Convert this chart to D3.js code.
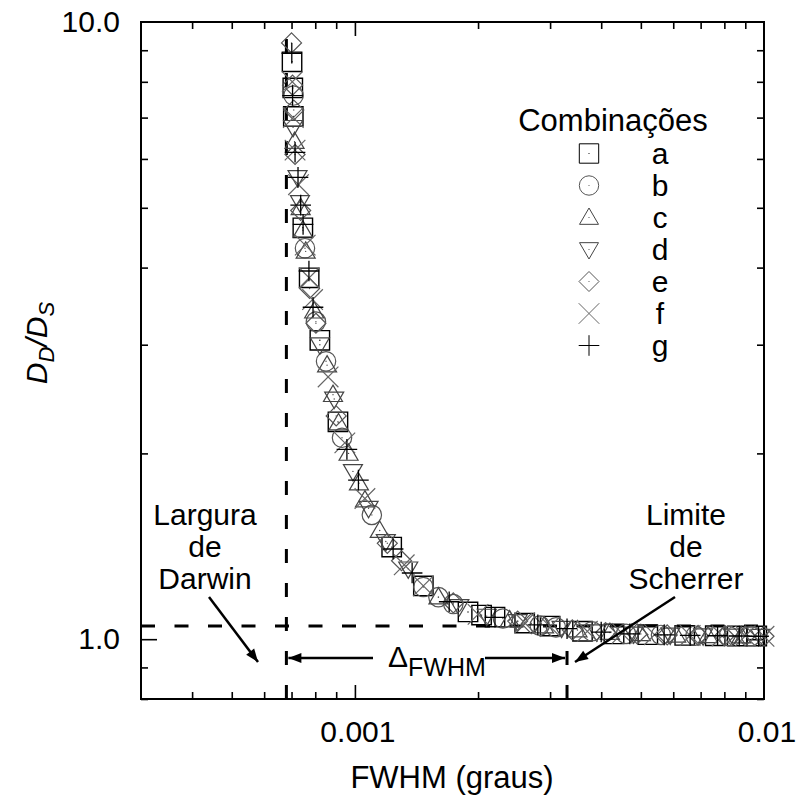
<!DOCTYPE html>
<html><head><meta charset="utf-8">
<script src="https://cdn.jsdelivr.net/npm/d3@7"></script>
<style>body{margin:0;background:#fff} svg{display:block} text{font-family:"Liberation Sans",Arial,Helvetica,sans-serif;fill:#000}</style>
</head><body><svg id="c" width="798" height="798"></svg>
<script>
// ---------- data ----------
const seriesNames = ["a","b","c","d","e","f","g"];
const legendTitle = "Combinações";
const xLabel = "FWHM (graus)";
const xMajorTicks = [0.001, 0.01];
const xMajorLabels = ["0.001", "0.01"];
const xMinorTicks = [4e-4,5e-4,6e-4,7e-4,8e-4,9e-4,2e-3,3e-3,4e-3,5e-3,6e-3,7e-3,8e-3,9e-3];
const yMajorTicks = [1, 10];
const yMajorLabels = ["1.0", "10.0"];
const yMinorTicks = [0.8,0.9,2,3,4,5,6,7,8,9];
const darwinWidth = 6.8e-4;
const scherrerLimit = 3.3e-3;
const referenceLevel = 1.05;

const seriesA = [[7.02e-4,8.62],[7.05e-4,7.82],[7.07e-4,7.03],[7.46e-4,4.64],[7.73e-4,3.85],[8.21e-4,3.05],[9.09e-4,2.25],[1.23e-3,1.41],[1.47e-3,1.22],[1.89e-3,1.107],[2.04e-3,1.094],[2.20e-3,1.086],[2.60e-3,1.062],[3.0e-3,1.05],[3.6e-3,1.03],[4.3e-3,1.02],[5.2e-3,1.017],[6.4e-3,1.014],[7.6e-3,1.013],[8.6e-3,1.012],[9.6e-3,1.012]];
const seriesB = [[7.08e-4,7.6],[7.55e-4,4.30],[8.03e-4,3.27],[8.50e-4,2.82],[9.30e-4,2.12],[1.10e-3,1.59],[1.47e-3,1.215],[1.60e-3,1.17],[1.74e-3,1.14],[2.3e-3,1.08],[2.83e-3,1.052],[3.1e-3,1.045],[3.8e-3,1.03],[4.6e-3,1.02],[5.6e-3,1.016],[6.8e-3,1.013],[8.2e-3,1.012],[9.3e-3,1.012]];
const seriesC = [[7.12e-4,6.4],[7.37e-4,5.0],[7.46e-4,4.6],[7.58e-4,4.25],[7.95e-4,3.40],[8.55e-4,2.78],[8.84e-4,2.49],[9.12e-4,2.24],[9.65e-4,2.0],[1.023e-3,1.79],[1.058e-3,1.68],[1.15e-3,1.50],[1.60e-3,1.17],[2.39e-3,1.074],[2.9e-3,1.05],[3.5e-3,1.035],[4.2e-3,1.025],[5.0e-3,1.02],[6.1e-3,1.015],[7.3e-3,1.013],[8.8e-3,1.012]];
const seriesD = [[7.06e-4,6.75],[7.24e-4,5.6],[7.34e-4,5.1],[8.21e-4,3.0],[8.90e-4,2.45],[9.89e-4,1.87],[1.08e-3,1.63],[1.19e-3,1.44],[1.35e-3,1.30],[1.80e-3,1.13],[2.1e-3,1.09],[2.5e-3,1.068],[3.2e-3,1.042],[3.9e-3,1.028],[4.8e-3,1.02],[5.9e-3,1.016],[7.1e-3,1.013],[8.4e-3,1.012],[9.8e-3,1.011]];
const seriesE = [[7.00e-4,9.25],[7.04e-4,7.9],[7.09e-4,7.2],[7.14e-4,6.1],[7.37e-4,4.95],[7.75e-4,3.70],[8.03e-4,3.25],[9.0e-4,2.3],[1.20e-3,1.43],[1.30e-3,1.34],[1.74e-3,1.145],[2.5e-3,1.07],[2.7e-3,1.06],[3.4e-3,1.035],[4.1e-3,1.025],[4.9e-3,1.02],[5.8e-3,1.016],[6.9e-3,1.014],[8.0e-3,1.012],[9.0e-3,1.012],[1.0e-2,1.011]];
const seriesF = [[7.03e-4,8.0],[7.07e-4,7.0],[7.14e-4,6.2],[7.28e-4,5.45],[7.56e-4,4.35],[7.73e-4,3.85],[7.88e-4,3.55],[8.6e-4,2.66],[9.45e-4,2.08],[1.058e-3,1.69],[1.32e-3,1.32],[1.47e-3,1.22],[2.0e-3,1.097],[2.6e-3,1.063],[3.0e-3,1.048],[3.7e-3,1.03],[4.5e-3,1.022],[5.4e-3,1.017],[6.6e-3,1.014],[7.9e-3,1.012],[9.0e-3,1.012],[1.0e-2,1.011]];
const seriesG = [[7.01e-4,8.9],[7.04e-4,7.6],[7.14e-4,6.15],[7.26e-4,5.6],[7.37e-4,5.05],[7.47e-4,4.7],[7.72e-4,3.95],[7.90e-4,3.45],[9.56e-4,2.03],[1.02e-3,1.81],[1.24e-3,1.40],[1.38e-3,1.28],[1.70e-3,1.15],[2.2e-3,1.085],[2.8e-3,1.055],[3.3e-3,1.04],[4.0e-3,1.027],[4.7e-3,1.02],[5.7e-3,1.016],[6.6e-3,1.014],[7.7e-3,1.013],[8.7e-3,1.012],[9.7e-3,1.011]];
const allSeries = [seriesA, seriesB, seriesC, seriesD, seriesE, seriesF, seriesG];

// ---------- layout ----------
const L = 141, R = 764, T = 22, B = 699;
const svg = d3.select("#c");
const x = d3.scaleLog().domain([3e-4, 1e-2]).range([L, R]);
const y = d3.scaleLog().domain([0.8, 10]).range([B, T]);

// symbols (stroke only)
const symSquare = {draw(c, r){c.moveTo(-r,-r);c.lineTo(r,-r);c.lineTo(r,r);c.lineTo(-r,r);c.closePath();}};
const symCircle = {draw(c, r){c.moveTo(r,0);c.arc(0,0,r,0,2*Math.PI);}};
const symTriUp = {draw(c, r){c.moveTo(0,-r);c.lineTo(r,r*0.72);c.lineTo(-r,r*0.72);c.closePath();}};
const symTriDown = {draw(c, r){c.moveTo(0,r);c.lineTo(r,-r*0.72);c.lineTo(-r,-r*0.72);c.closePath();}};
const symDiamond = {draw(c, r){c.moveTo(0,-r);c.lineTo(r,0);c.lineTo(0,r);c.lineTo(-r,0);c.closePath();}};
const symX = {draw(c, r){c.moveTo(-r,-r);c.lineTo(r,r);c.moveTo(r,-r);c.lineTo(-r,r);}};
const symPlus = {draw(c, r){c.moveTo(-r,0);c.lineTo(r,0);c.moveTo(0,-r);c.lineTo(0,r);}};
const styles = [
  {type: symSquare, r: 9.7, color: "#000", w: 1.4, dot: true},
  {type: symCircle, r: 9.7, color: "#555", w: 1.2, dot: true},
  {type: symTriUp, r: 9.5, color: "#444", w: 1.2, dot: true},
  {type: symTriDown, r: 9.5, color: "#444", w: 1.2, dot: true},
  {type: symDiamond, r: 10, color: "#555", w: 1.2, dot: true},
  {type: symX, r: 10.3, color: "#666", w: 1.2, dot: false},
  {type: symPlus, r: 10.3, color: "#000", w: 1.3, dot: false}
];

// frame
svg.append("rect").attr("x", L).attr("y", T).attr("width", R-L).attr("height", B-T)
  .attr("fill", "none").attr("stroke", "#000").attr("stroke-width", 2);

// ticks (inside, all four sides)
function ticks(axisFn, scale, vals, len, tx, ty) {
  const g = svg.append("g").attr("transform", `translate(${tx},${ty})`)
    .call(axisFn(scale).tickValues(vals).tickSize(-len).tickFormat(""));
  g.select(".domain").remove();
  g.selectAll(".tick line").attr("stroke", "#000").attr("stroke-width", 1.6);
}
ticks(d3.axisBottom, x, xMinorTicks, 7, 0, B);
ticks(d3.axisBottom, x, [0.001], 14, 0, B);
ticks(d3.axisTop, x, xMinorTicks, 7, 0, T);
ticks(d3.axisTop, x, [0.001], 14, 0, T);
ticks(d3.axisLeft, y, yMinorTicks, 7, L, 0);
ticks(d3.axisLeft, y, [1], 16, L, 0);
ticks(d3.axisRight, y, yMinorTicks, 7, R, 0);
ticks(d3.axisRight, y, [1], 16, R, 0);

// tick labels
xMajorTicks.forEach((v, i) => {
  svg.append("text").attr("x", x(v) + 3).attr("y", 742).attr("text-anchor", "middle")
    .attr("font-size", 30).text(xMajorLabels[i]);
});
yMajorTicks.forEach((v, i) => {
  svg.append("text").attr("x", 120).attr("y", y(v) + 10).attr("text-anchor", "end")
    .attr("font-size", 30).text(yMajorLabels[i]);
});

// axis titles
svg.append("text").attr("x", 452).attr("y", 788).attr("text-anchor", "middle")
  .attr("font-size", 31).text(xLabel);
const yl = svg.append("text").attr("transform", "translate(47,343) rotate(-90)")
  .attr("text-anchor", "middle").attr("font-size", 30).attr("font-style", "italic");
yl.append("tspan").text("D");
yl.append("tspan").attr("font-size", 22).attr("dy", 7).text("D");
yl.append("tspan").attr("dy", -7).text("/D");
yl.append("tspan").attr("font-size", 22).attr("dy", 7).text("S");

// dashed reference lines
const dash = {"stroke": "#000", "stroke-width": 3, "stroke-dasharray": "14,20", "fill": "none"};
function applyAttrs(sel, o){ for (const k in o) sel.attr(k, o[k]); return sel; }
applyAttrs(svg.append("line").attr("x1", x(darwinWidth)).attr("x2", x(darwinWidth))
  .attr("y1", B).attr("y2", T), dash);
applyAttrs(svg.append("line").attr("x1", x(scherrerLimit)).attr("x2", x(scherrerLimit))
  .attr("y1", B).attr("y2", 651), dash);
applyAttrs(svg.append("line").attr("x1", L).attr("x2", R)
  .attr("y1", y(referenceLevel)).attr("y2", y(referenceLevel)), dash).attr("stroke-dasharray", "14,19.5");

// markers
allSeries.forEach((data, i) => {
  const st = styles[i];
  const sym = d3.symbol().type(st.type).size(st.r);
  const g = svg.append("g");
  g.selectAll("path").data(data).join("path")
    .attr("transform", d => `translate(${x(d[0])},${y(d[1])})`)
    .attr("d", sym).attr("fill", "none").attr("stroke", st.color).attr("stroke-width", st.w);
  if (st.dot) g.selectAll("circle").data(data).join("circle")
    .attr("cx", d => x(d[0])).attr("cy", d => y(d[1])).attr("r", 0.7).attr("fill", st.color);
});

// legend
svg.append("text").attr("x", 613).attr("y", 131).attr("text-anchor", "middle")
  .attr("font-size", 31).text(legendTitle);
seriesNames.forEach((n, i) => {
  const cy = 153.5 + 32 * i, st = styles[i];
  svg.append("path").attr("transform", `translate(589,${cy})`)
    .attr("d", d3.symbol().type(st.type).size(st.r)()).attr("fill", "none")
    .attr("stroke", st.color).attr("stroke-width", 1);
  if (st.dot) svg.append("circle").attr("cx", 589).attr("cy", cy).attr("r", 0.6).attr("fill", st.color);
  svg.append("text").attr("x", 660).attr("y", cy + 10).attr("text-anchor", "middle")
    .attr("font-size", 30).text(n);
});

// annotations
function arrow(x1, y1, x2, y2) {
  svg.append("line").attr("x1", x1).attr("y1", y1).attr("x2", x2).attr("y2", y2)
    .attr("stroke", "#000").attr("stroke-width", 2.5);
  const a = Math.atan2(y2 - y1, x2 - x1), len = 13, hw = 5;
  const bx = x2 - len * Math.cos(a), by = y2 - len * Math.sin(a);
  const px = -Math.sin(a) * hw, py = Math.cos(a) * hw;
  svg.append("path").attr("d", `M${x2},${y2}L${bx+px},${by+py}L${bx-px},${by-py}Z`).attr("fill", "#000");
}
[["Largura",525],["de",557],["Darwin",589]].forEach(([t, by]) =>
  svg.append("text").attr("x", 205).attr("y", by).attr("text-anchor", "middle").attr("font-size", 30).text(t));
[["Limite",525],["de",557],["Scherrer",589]].forEach(([t, by]) =>
  svg.append("text").attr("x", 686).attr("y", by).attr("text-anchor", "middle").attr("font-size", 30).text(t));
arrow(209, 597, 258, 662);
arrow(675, 597, 575, 662);
arrow(373, 658, x(darwinWidth) + 2, 658);
arrow(485, 658, x(scherrerLimit) - 2, 658);
const dl = svg.append("text").attr("x", 388).attr("y", 667).attr("font-size", 30);
dl.append("tspan").text("Δ");
dl.append("tspan").attr("font-size", 25).attr("dy", 9).text("FWHM");
</script></body></html>
